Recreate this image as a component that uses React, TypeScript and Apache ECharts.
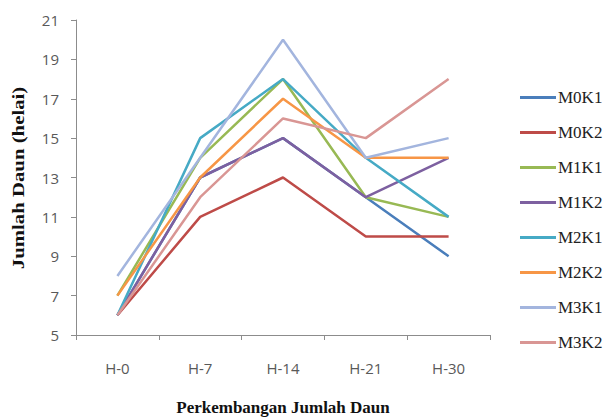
import React, { useEffect, useRef } from "react";
import * as echarts from "echarts";

const categories = ["H-0", "H-7", "H-14", "H-21", "H-30"];
const seriesNames = ["M0K1", "M0K2", "M1K1", "M1K2", "M2K1", "M2K2", "M3K1", "M3K2"];
const M0K1 = [6, 13, 15, 12, 9];
const M0K2 = [6, 11, 13, 10, 10];
const M1K1 = [7, 14, 18, 12, 11];
const M1K2 = [6, 13, 15, 12, 14];
const M2K1 = [6, 15, 18, 14, 11];
const M2K2 = [7, 13, 17, 14, 14];
const M3K1 = [8, 14, 20, 14, 15];
const M3K2 = [6, 12, 16, 15, 18];
const seriesValues = [M0K1, M0K2, M1K1, M1K2, M2K1, M2K2, M3K1, M3K2];
const colors = ["#4A7EBB", "#BE4B48", "#98B954", "#7D60A0", "#46AAC5", "#F79646", "#A3B5DE", "#D99694"];
const yTitle = "Jumlah Daun (helai)";
const xTitle = "Perkembangan Jumlah Daun";

export default function App() {
  const ref = useRef<HTMLDivElement>(null);
  useEffect(() => {
    if (!ref.current) return;
    const chart = echarts.init(ref.current, undefined, { renderer: "svg" });
    chart.setOption({
      animation: false,
      backgroundColor: "#ffffff",
      color: colors,
      grid: { left: 76, right: 113, top: 20, bottom: 83, containLabel: false, outerBoundsMode: "none" },
      legend: {
        orient: "vertical",
        left: 515,
        top: 84,
        icon: "rect",
        itemWidth: 36,
        itemHeight: 3,
        itemGap: 18,
        data: seriesNames,
        textStyle: { fontFamily: "Liberation Serif", fontSize: 17, color: "#222", padding: [0, 0, 0, -3] },
      },
      graphic: [
        {
          type: "text",
          x: 18,
          y: 178,
          rotation: Math.PI / 2,
          scaleX: 1.3,
          style: {
            text: yTitle,
            font: "bold 16px 'Liberation Serif'",
            fill: "#111",
            align: "center",
            verticalAlign: "middle",
          },
        },
      ],
      xAxis: {
        type: "category",
        data: categories,
        boundaryGap: true,
        name: xTitle,
        nameLocation: "middle",
        nameGap: 64,
        nameTextStyle: { fontFamily: "Liberation Serif", fontWeight: "bold", fontSize: 17, color: "#111" },
        axisLine: { lineStyle: { color: "#8c8c8c", width: 1 } },
        axisTick: { show: true, alignWithLabel: false, length: 5, lineStyle: { color: "#8c8c8c" } },
        axisLabel: { margin: 25, fontFamily: "Open Sans", fontSize: 15, color: "#595959" },
        splitLine: { show: false },
      },
      yAxis: {
        type: "value",
        min: 5,
        max: 21,
        interval: 2,
        axisLine: { show: true, lineStyle: { color: "#8c8c8c", width: 1 } },
        axisTick: { show: true, length: 5, lineStyle: { color: "#8c8c8c" } },
        axisLabel: { margin: 17, fontFamily: "Open Sans", fontSize: 15, color: "#595959" },
        splitLine: { show: false },
      },
      series: seriesNames.map((n, i) => ({
        name: n,
        type: "line",
        data: seriesValues[i],
        symbol: "none",
        lineStyle: { width: 2.5, color: colors[i] },
        itemStyle: { color: colors[i] },
      })),
    });
    return () => chart.dispose();
  }, []);
  return <div ref={ref} style={{ width: 603, height: 418, position: "absolute", left: 0, top: 0 }} />;
}
